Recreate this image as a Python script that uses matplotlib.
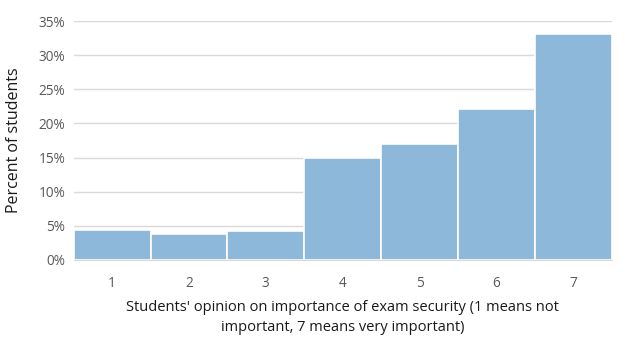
import matplotlib.pyplot as plt
from matplotlib.ticker import PercentFormatter

# opinion scale and share of students per answer
ratings = ["1", "2", "3", "4", "5", "6", "7"]
percents = [4.4, 3.8, 4.2, 14.9, 17.0, 22.1, 33.2]

plt.rcParams['font.family'] = ['Open Sans', 'DejaVu Sans']

fig = plt.figure(figsize=(6.27, 3.39), dpi=100)
ax = fig.add_axes([0.1175, 0.234, 0.858, 0.703])

x = range(len(ratings))
ax.bar(x, percents, width=1.0, color="#8db8d9", edgecolor="white", linewidth=1.2, zorder=2)

ax.set_xlim(-0.5, len(ratings) - 0.5)
ax.set_ylim(0, 35)
ax.set_yticks(range(0, 36, 5))
ax.yaxis.set_major_formatter(PercentFormatter(decimals=0))
ax.set_xticks(list(x))
ax.set_xticklabels(ratings)

ax.grid(axis="y", color="#d9d9d9", linewidth=1, zorder=0)
for side in ["top", "right", "left"]:
    ax.spines[side].set_visible(False)
ax.spines["bottom"].set_color("#d9d9d9")
ax.tick_params(axis="both", length=0, labelsize=9.8, colors="#595959")
ax.tick_params(axis="x", pad=12)
ax.tick_params(axis="y", pad=6)

# label anchor is the right edge of the rotated text
ax.set_ylabel("Percent of students", fontsize=11.5, color="#1a1a1a")
ax.yaxis.set_label_coords(-0.096, 0.5)
ax.set_xlabel("Students' opinion on importance of exam security (1 means not\nimportant, 7 means very important)",
              fontsize=10.5, color="#1a1a1a", labelpad=6, linespacing=1.5)

fig.savefig("out.png", dpi=100)
